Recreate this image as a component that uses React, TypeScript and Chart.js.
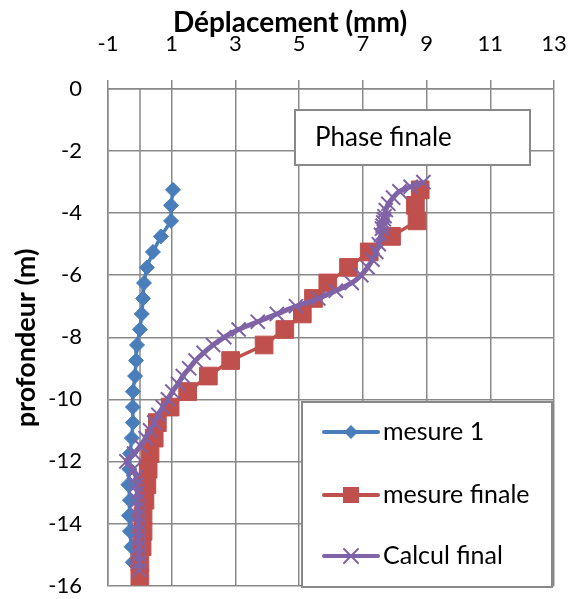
import React, { useEffect, useRef } from "react";
import { Chart, registerables } from "chart.js";

Chart.register(...registerables);

// ---------- data ----------
const xTickValues = [-1, 1, 3, 5, 7, 9, 11, 13];
const yTickValues = [0, -2, -4, -6, -8, -10, -12, -14, -16];

const xTitle = "Déplacement (mm)";
const yTitle = "profondeur (m)";
const chartTitle = "Phase finale";
const seriesLabels = ["mesure 1", "mesure finale", "Calcul final"];

const mesure1Depths = [
  -3.25, -3.75, -4.25, -4.75, -5.25, -5.75, -6.25, -6.75, -7.25, -7.75, -8.25, -8.75, -9.25,
  -9.75, -10.25, -10.75, -11.25, -11.75, -12.25, -12.75, -13.25, -13.75, -14.25, -14.75, -15.25,
];
const mesure1Values = [
  1.04, 0.98, 0.98, 0.66, 0.41, 0.22, 0.13, 0.1, 0.06, 0.0, -0.09, -0.12, -0.15,
  -0.22, -0.22, -0.22, -0.25, -0.31, -0.33, -0.36, -0.31, -0.34, -0.31, -0.26, -0.22,
];

const finaleDepths = [
  -3.25, -3.75, -4.25, -4.75, -5.25, -5.75, -6.25, -6.75, -7.25, -7.75, -8.25, -8.75, -9.25,
  -9.75, -10.25, -10.75, -11.25, -11.75, -12.25, -12.75, -13.25, -13.75, -14.25, -14.75, -15.25, -15.75,
];
const finaleValues = [
  8.8, 8.65, 8.7, 7.9, 7.2, 6.55, 5.9, 5.45, 5.1, 4.55, 3.9, 2.85, 2.15,
  1.5, 0.95, 0.55, 0.45, 0.32, 0.26, 0.22, 0.16, 0.1, 0.1, 0.07, 0.0, 0.0,
];

const calculDepths = [
  -3.0, -3.15, -3.3, -3.5, -3.7, -3.9, -4.1, -4.2, -4.3, -4.4, -4.5, -4.7, -5.0, -5.25, -5.5,
  -5.75, -6.0, -6.25, -6.5, -6.75, -7.0, -7.25, -7.5, -7.75, -8.0, -8.25, -8.5, -8.75, -9.0,
  -9.25, -9.5, -9.75, -10.0, -10.25, -10.5, -10.75, -11.0, -11.25, -11.5, -11.75, -12.0,
  -12.25, -12.5, -12.75, -13.0, -13.25, -13.5, -13.75, -14.0, -14.25, -14.5, -14.75, -15.0,
  -15.25, -15.5,
];
const calculValues = [
  8.9, 8.5, 8.15, 7.95, 7.8, 7.72, 7.68, 7.66, 7.64, 7.62, 7.6, 7.57, 7.5, 7.42, 7.3,
  7.15, 6.95, 6.65, 6.15, 5.6, 4.9, 4.3, 3.7, 3.1, 2.65, 2.3, 2.0, 1.75, 1.55,
  1.35, 1.2, 1.02, 0.88, 0.72, 0.58, 0.45, 0.32, 0.18, 0.02, -0.18, -0.42,
  -0.2, -0.12, -0.1, -0.08, -0.07, -0.06, -0.05, -0.05, -0.04, -0.04, -0.03, -0.03,
  -0.02, -0.02,
];

// ---------- styles ----------
const FONT = "Lato";
const GRID = "#898989";
const BLUE = "#4A7EBB";
const RED = "#C0504D";
const PURPLE = "#7F63A6";

const toPoints = (xs: number[], ys: number[]) => xs.map((x, i) => ({ x, y: ys[i] }));

function drawDiamond(ctx: CanvasRenderingContext2D, x: number, y: number, r: number, c: string) {
  ctx.beginPath();
  ctx.moveTo(x - r, y);
  ctx.lineTo(x, y - r);
  ctx.lineTo(x + r, y);
  ctx.lineTo(x, y + r);
  ctx.closePath();
  ctx.fillStyle = c;
  ctx.fill();
}
function drawSquare(ctx: CanvasRenderingContext2D, x: number, y: number, h: number, c: string) {
  ctx.fillStyle = c;
  ctx.fillRect(x - h, y - h, 2 * h, 2 * h);
}
function drawX(ctx: CanvasRenderingContext2D, x: number, y: number, h: number, c: string) {
  ctx.beginPath();
  ctx.moveTo(x - h, y - h);
  ctx.lineTo(x + h, y + h);
  ctx.moveTo(x - h, y + h);
  ctx.lineTo(x + h, y - h);
  ctx.strokeStyle = c;
  ctx.lineWidth = 2;
  ctx.stroke();
}

const overlayPlugin = {
  id: "overlay",
  beforeDatasetsDraw(chart: any) {
    const { ctx, chartArea, scales } = chart;
    const x0 = Math.round(scales.x.getPixelForValue(0));
    ctx.save();
    ctx.strokeStyle = GRID;
    ctx.lineWidth = 1.5;
    ctx.beginPath();
    ctx.moveTo(x0, chartArea.top);
    ctx.lineTo(x0, chartArea.bottom);
    ctx.stroke();
    ctx.restore();
  },
  afterDraw(chart: any) {
    const { ctx } = chart;
    ctx.save();
    // axis titles
    ctx.fillStyle = "#000";
    ctx.font = `bold 28px ${FONT}`;
    ctx.textAlign = "center";
    ctx.textBaseline = "alphabetic";
    ctx.fillText(xTitle, 290, 32);
    ctx.save();
    ctx.font = `bold 27px ${FONT}`;
    ctx.translate(35, 338);
    ctx.rotate(-Math.PI / 2);
    ctx.fillText(yTitle, 0, 0);
    ctx.restore();

    // title box
    ctx.fillStyle = "#fff";
    ctx.fillRect(295, 110, 235, 55);
    ctx.strokeStyle = GRID;
    ctx.lineWidth = 2;
    ctx.strokeRect(295, 110, 235, 55);
    ctx.fillStyle = "#000";
    ctx.font = `26px ${FONT}`;
    ctx.textAlign = "left";
    ctx.textBaseline = "middle";
    ctx.fillText(chartTitle, 315, 138);

    // legend box
    ctx.fillStyle = "#fff";
    ctx.fillRect(302, 402, 250, 185);
    ctx.strokeStyle = GRID;
    ctx.lineWidth = 2;
    ctx.strokeRect(302, 402, 250, 185);
    const rows = [432, 495, 556];
    const colors = [BLUE, RED, PURPLE];
    rows.forEach((ry, i) => {
      ctx.strokeStyle = colors[i];
      ctx.lineWidth = 4;
      ctx.lineCap = "round";
      ctx.beginPath();
      ctx.moveTo(324, ry);
      ctx.lineTo(378, ry);
      ctx.stroke();
      if (i === 0) drawDiamond(ctx, 351, ry, 7, BLUE);
      if (i === 1) drawSquare(ctx, 351, ry, 8, RED);
      if (i === 2) drawX(ctx, 351, ry, 7, PURPLE);
      ctx.fillStyle = "#000";
      ctx.font = `25px ${FONT}`;
      ctx.textAlign = "left";
      ctx.textBaseline = "middle";
      ctx.fillText(seriesLabels[i], 383, ry);
    });
    ctx.restore();
  },
};

export default function App() {
  const ref = useRef<HTMLCanvasElement | null>(null);

  useEffect(() => {
    if (!ref.current) return;
    const chart = new Chart(ref.current, {
      type: "scatter",
      data: {
        datasets: [
          {
            label: seriesLabels[0],
            data: toPoints(mesure1Values, mesure1Depths),
            showLine: true,
            borderColor: BLUE,
            borderWidth: 3.5,
            backgroundColor: BLUE,
            pointStyle: "rectRot",
            pointRadius: 7.5,
            pointBorderWidth: 1,
            pointBorderColor: BLUE,
            pointBackgroundColor: BLUE,
            order: 3,
          },
          {
            label: seriesLabels[1],
            data: toPoints(finaleValues, finaleDepths),
            showLine: true,
            borderColor: RED,
            borderWidth: 3.5,
            backgroundColor: RED,
            pointStyle: "rect",
            pointRadius: 12.5,
            pointBorderWidth: 1,
            pointBorderColor: RED,
            pointBackgroundColor: RED,
            order: 2,
          },
          {
            label: seriesLabels[2],
            data: toPoints(calculValues, calculDepths),
            showLine: true,
            borderColor: PURPLE,
            borderWidth: 5,
            backgroundColor: PURPLE,
            pointStyle: "crossRot",
            pointRadius: 10,
            pointBorderWidth: 2,
            pointBorderColor: PURPLE,
            tension: 0.4,
            order: 1,
          },
        ] as any,
      },
      options: {
        animation: false,
        responsive: false,
        maintainAspectRatio: false,
        layout: { padding: { left: 0, top: 0, right: 14, bottom: 11 } },
        plugins: {
          legend: { display: false },
          tooltip: { enabled: false },
          title: { display: false },
        },
        scales: {
          x: {
            type: "linear",
            position: "top",
            min: -1,
            max: 13,
            afterBuildTicks: (s: any) => {
              s.ticks = xTickValues.map((v) => ({ value: v }));
            },
            afterFit: (s: any) => {
              s.height = 89;
              s.paddingLeft = 0;
              s.paddingRight = 0;
              s.paddingTop = 0;
              s.paddingBottom = 0;
            },
            ticks: {
              color: "#000",
              font: { family: FONT, size: 22 },
              padding: 23,
              callback: (v: any) => String(v),
            },
            grid: { color: GRID, lineWidth: 1.5, tickLength: 9, drawTicks: true },
            border: { color: GRID, width: 1.5 },
          },
          y: {
            type: "linear",
            min: -16,
            max: 0,
            afterBuildTicks: (s: any) => {
              s.ticks = yTickValues.map((v) => ({ value: v }));
            },
            afterFit: (s: any) => {
              s.width = 108;
              s.paddingLeft = 0;
              s.paddingRight = 0;
              s.paddingTop = 0;
              s.paddingBottom = 0;
            },
            ticks: {
              color: "#000",
              font: { family: FONT, size: 22 },
              padding: 26,
              callback: (v: any) => String(v),
            },
            grid: { color: GRID, lineWidth: 1.5, drawTicks: false },
            border: { color: GRID, width: 1.5 },
          },
        },
      } as any,
      plugins: [overlayPlugin],
    });
    return () => chart.destroy();
  }, []);

  return (
    <div style={{ position: "absolute", left: 0, top: 0, width: 568, height: 599, background: "#fff" }}>
      <canvas ref={ref} width={568} height={599} style={{ width: 568, height: 599, display: "block" }} />
    </div>
  );
}
